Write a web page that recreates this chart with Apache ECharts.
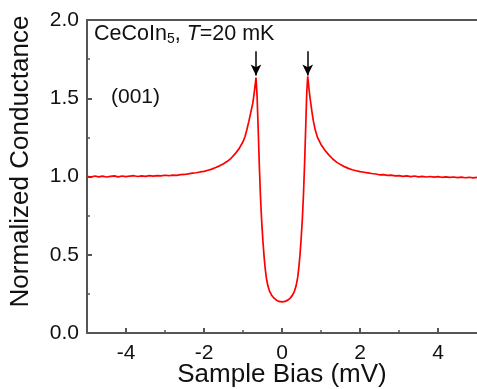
<!DOCTYPE html>
<html><head><meta charset="utf-8">
<script src="https://cdn.jsdelivr.net/npm/echarts@6/dist/echarts.min.js"></script>
<style>html,body{margin:0;padding:0;background:#fff}#c{width:477px;height:389px}</style>
</head><body><div id="c"></div>
<script>
var bias = [-5.0,-4.9,-4.8,-4.7,-4.6,-4.5,-4.4,-4.3,-4.2,-4.1,-4.0,-3.9,-3.8,-3.7,-3.6,-3.5,-3.4,-3.3,-3.2,-3.1,-3.0,-2.9,-2.8,-2.7,-2.6,-2.5,-2.4,-2.3,-2.2,-2.1,-2.0,-1.9,-1.8,-1.7,-1.6,-1.5,-1.4,-1.3,-1.2,-1.1,-1.0,-0.95,-0.9,-0.85,-0.8,-0.75,-0.72,-0.69,-0.667,-0.64,-0.61,-0.58,-0.55,-0.52,-0.49,-0.46,-0.43,-0.40,-0.36,-0.32,-0.27,-0.21,-0.15,-0.08,0,0.08,0.15,0.21,0.27,0.32,0.36,0.40,0.43,0.46,0.49,0.52,0.55,0.58,0.61,0.635,0.66,0.69,0.72,0.745,0.77,0.80,0.85,0.91,1.0,1.1,1.2,1.3,1.4,1.5,1.6,1.7,1.8,1.9,2.0,2.1,2.2,2.3,2.4,2.5,2.6,2.7,2.8,2.9,3.0,3.1,3.2,3.3,3.4,3.5,3.6,3.7,3.8,3.9,4.0,4.1,4.2,4.3,4.4,4.5,4.6,4.7,4.8,4.9,5.0];
var conductance = [1.001,0.996,1.003,0.998,1.002,0.997,1.001,1.004,0.998,1.003,0.999,1.003,1.005,1.000,1.004,1.001,1.006,1.002,1.006,1.004,1.008,1.005,1.009,1.007,1.012,1.013,1.017,1.021,1.024,1.029,1.033,1.040,1.047,1.057,1.068,1.082,1.097,1.118,1.146,1.178,1.222,1.254,1.300,1.352,1.410,1.467,1.520,1.580,1.632,1.52,1.30,1.06,0.86,0.71,0.59,0.49,0.41,0.35,0.30,0.268,0.243,0.224,0.211,0.202,0.199,0.202,0.210,0.223,0.242,0.268,0.300,0.352,0.415,0.495,0.60,0.72,0.88,1.09,1.33,1.54,1.640,1.565,1.500,1.455,1.410,1.360,1.300,1.250,1.205,1.168,1.138,1.112,1.092,1.076,1.063,1.052,1.043,1.037,1.031,1.027,1.023,1.019,1.016,1.011,1.012,1.007,1.009,1.004,1.006,1.001,1.004,0.999,1.003,0.998,1.001,0.997,1.000,0.996,0.999,0.995,0.998,0.994,0.997,0.993,0.996,0.992,0.995,0.991,0.994];
var xMajorTicks = [-4,-2,0,2,4];
var xMinorTicks = [-3,-1,1,3];
var peakBias = [-0.667, 0.66];
var arrowFrom = 1.80, arrowTo = 1.645;

var chart = echarts.init(document.getElementById('c'), null, {renderer:'canvas'});
var pts = bias.map(function(b,i){return [b, conductance[i]];});
var axisColor = '#555';
var font = 'Liberation Sans, Arial, sans-serif';
var arrows = peakBias.map(function(p){
  return [{coord:[p, arrowFrom], symbol:'none'},{coord:[p, arrowTo], symbol:'arrow'}];
});
chart.setOption({
  animation:false,
  grid:{left:87, right:0, top:20, bottom:56, containLabel:false, outerBoundsMode:'none'},
  xAxis:[{
    type:'value', min:-5, max:5, position:'bottom',
    name:'Sample Bias (mV)', nameLocation:'middle', nameGap:29, nameMoveOverlap:false,
    nameTextStyle:{fontFamily:font, fontSize:26, color:'#111'},
    axisLine:{show:true, onZero:false, lineStyle:{color:axisColor, width:2}},
    axisTick:{show:true, inside:true, length:5, customValues:xMajorTicks, lineStyle:{color:axisColor, width:2}},
    axisLabel:{show:true, customValues:xMajorTicks, margin:10, fontFamily:font, fontSize:21, color:'#111'},
    splitLine:{show:false}
  },{
    type:'value', min:-5, max:5, position:'bottom', gridIndex:0,
    axisLine:{show:false},
    axisTick:{show:true, inside:true, length:3, customValues:xMinorTicks, lineStyle:{color:axisColor, width:1.5}},
    axisLabel:{show:false}, splitLine:{show:false}
  },{
    type:'value', min:-5, max:5, position:'top',
    axisLine:{show:true, onZero:false, lineStyle:{color:axisColor, width:2}},
    axisTick:{show:false}, axisLabel:{show:false}, splitLine:{show:false}
  }],
  yAxis:{
    type:'value', min:0, max:2, interval:0.5,
    name:'Normalized Conductance', nameLocation:'middle', nameGap:53, nameMoveOverlap:false,
    nameTextStyle:{fontFamily:font, fontSize:26, color:'#111', padding:[0,0,0,30]},
    axisLine:{show:true, onZero:false, lineStyle:{color:axisColor, width:2}},
    axisTick:{show:true, inside:true, length:5, lineStyle:{color:axisColor, width:2}},
    minorTick:{show:true, splitNumber:2, length:3, lineStyle:{color:axisColor, width:1.5}},
    axisLabel:{margin:8, fontFamily:font, fontSize:21, color:'#111', formatter:function(v){return v.toFixed(1);}},
    splitLine:{show:false}
  },
  series:[{
    type:'line', data:pts, xAxisIndex:0, showSymbol:false, symbol:'none',
    lineStyle:{color:'#ff0000', width:1.7},
    markLine:{
      silent:true, symbolSize:[8,11], label:{show:false},
      lineStyle:{color:'#000', width:1.5, type:'solid'},
      emphasis:{disabled:true},
      data:arrows
    }
  }],
  graphic:[{
    type:'text', left:94, top:23,
    style:{
      text:'{n|CeCoIn}{s|5}{n|, }{i|T}{n|=20 mK}',
      rich:{
        n:{fontFamily:font, fontSize:21.5, fill:'#111'},
        s:{fontFamily:font, fontSize:14, fill:'#111', verticalAlign:'bottom', padding:[10,0,0,0]},
        i:{fontFamily:font, fontSize:21.5, fontStyle:'italic', fill:'#111'}
      }
    }
  },{
    type:'text', left:111, top:87,
    style:{text:'(001)', fontFamily:font, fontSize:21, fill:'#111'}
  }]
});
</script></body></html>
